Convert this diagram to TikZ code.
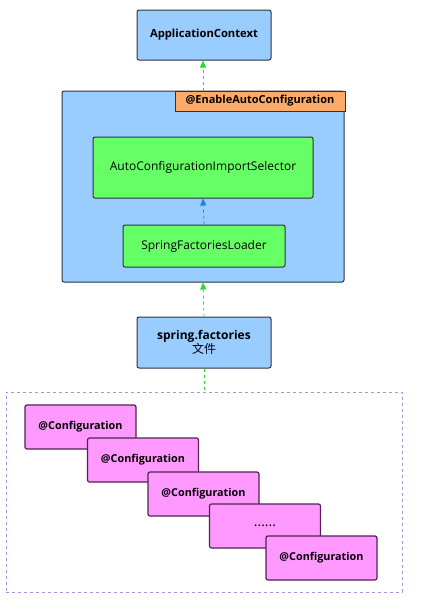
\documentclass[tikz,border=0pt]{standalone}
\usepackage{fontspec}
\setmainfont{Open Sans}
\newfontfamily\cjkfont{Noto Sans CJK SC}
\usetikzlibrary{arrows.meta}

\definecolor{boxblue}{RGB}{153,204,255}
\definecolor{boxgreen}{RGB}{102,255,102}
\definecolor{boxorange}{RGB}{255,170,102}
\definecolor{boxpink}{RGB}{255,153,255}
\definecolor{boxedge}{RGB}{45,50,60}
\definecolor{pinkedge}{RGB}{80,35,80}
\definecolor{groupedge}{RGB}{180,140,220}
\definecolor{arrgreen}{RGB}{40,220,40}
\definecolor{arrblue}{RGB}{30,130,230}

\tikzset{
  bluebox/.style={draw=boxedge, fill=boxblue, line width=1pt, rounded corners=2pt, align=center},
  greenbox/.style={draw=boxedge, fill=boxgreen, line width=1pt, rounded corners=2pt, font=\fontsize{12}{14}\selectfont},
  tagbox/.style={draw=boxedge, fill=boxorange, line width=1pt, font=\bfseries\fontsize{11}{13}\selectfont},
  cfgbox/.style={draw=pinkedge, fill=boxpink, line width=1.2pt, rounded corners=2pt,
    minimum width=111, minimum height=44, font=\bfseries\fontsize{10.8}{13}\selectfont},
  greenarrow/.style={-{Triangle[length=7pt,width=6pt]}, arrgreen, dashed, line width=0.8pt},
  bluearrow/.style={-{Triangle[length=7pt,width=6pt]}, arrblue, dashed, line width=0.8pt},
}

\begin{document}
\begin{tikzpicture}[x=1pt, y=-1pt]
  \useasboundingbox (0,0) rectangle (436,608);

  % top
  \node[bluebox, minimum width=134, minimum height=50, font=\bfseries\fontsize{11.2}{13}\selectfont] (ctx) at (204,35) {ApplicationContext};

  % auto configuration block
  \node[bluebox, minimum width=282, minimum height=191] (outer) at (203,186.5) {};
  \node[tagbox, minimum width=170, minimum height=20] (tag) at (260,101) {@EnableAutoConfiguration};
  \node[greenbox, minimum width=220, minimum height=61] (selector) at (203,167.5) {AutoConfigurationImportSelector};
  \node[greenbox, minimum width=162, minimum height=42] (loader) at (204,246) {SpringFactoriesLoader};

  % spring.factories
  \node[bluebox, minimum width=134, minimum height=51, font=\fontsize{12}{14}\selectfont] (factories) at (204,342.5)
    {\textbf{spring.factories}\\{\cjkfont 文件}};

  % configuration classes
  \node[draw=groupedge, dashed, line width=0.8pt, minimum width=396, minimum height=200] (group) at (204,492) {};
  \node[cfgbox] (cfg1) at (80.5,427) {@Configuration};
  \node[cfgbox] (cfg2) at (143,460) {@Configuration};
  \node[cfgbox] (cfg3) at (203.5,494) {@Configuration};
  \node[cfgbox, font=\fontsize{14}{14}\selectfont, text depth=-6pt] (cfg4) at (265,526) {......};
  \node[cfgbox] (cfg5) at (321.5,558) {@Configuration};

  % connectors
  \draw[greenarrow] (outer.north) -- (outer.north |- ctx.south);
  \draw[bluearrow] (loader.north) -- (selector.south);
  \draw[greenarrow] (factories.north) -- (outer.south);
  \draw[arrgreen, dashed, line width=0.8pt] (factories.south) -- (group.north);
\end{tikzpicture}
\end{document}
